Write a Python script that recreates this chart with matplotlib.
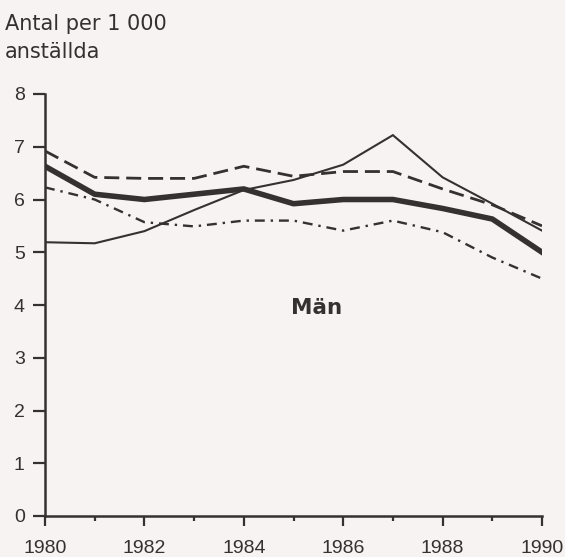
import matplotlib.pyplot as plt
from matplotlib.ticker import MultipleLocator

# Data (antal per 1 000 anställda, män)
years = list(range(1980, 1991))
total = [6.63, 6.1, 6.0, 6.1, 6.2, 5.92, 6.0, 6.0, 5.83, 5.63, 5.0]
dashed = [6.92, 6.42, 6.4, 6.4, 6.63, 6.44, 6.53, 6.53, 6.2, 5.9, 5.5]
dashdot = [6.23, 6.0, 5.57, 5.49, 5.6, 5.6, 5.41, 5.6, 5.38, 4.9, 4.5]
thin = [5.19, 5.17, 5.4, 5.8, 6.18, 6.37, 6.66, 7.22, 6.42, 5.92, 5.41]

ink = '#363131'
paper = '#f6f3f2'

plt.rcParams['font.family'] = ['Liberation Sans', 'DejaVu Sans']

W, H = 565, 557
fig = plt.figure(figsize=(W / 100, H / 100), dpi=100, facecolor=paper)
ax = fig.add_axes([45 / W, 1 - 516 / H, 497 / W, 422 / H])
ax.set_facecolor(paper)

ax.plot(years, thin, color=ink, lw=1.5, solid_joinstyle='miter')
ax.plot(years, dashed, color=ink, lw=2.0, linestyle=(0, (5.4, 2.5)))
ax.plot(years, dashdot, color=ink, lw=1.7, linestyle=(0, (4.2, 2.5, 1, 2.5)))
ax.plot(years, total, color=ink, lw=4.0, solid_joinstyle='round')

ax.set_xlim(1980, 1990)
ax.set_ylim(0, 8)

for s in ['top', 'right']:
    ax.spines[s].set_visible(False)
for s in ['left', 'bottom']:
    ax.spines[s].set_color(ink)
    ax.spines[s].set_linewidth(1.8)

ax.yaxis.set_major_locator(MultipleLocator(1))
ax.xaxis.set_major_locator(MultipleLocator(2))
ax.xaxis.set_minor_locator(MultipleLocator(1))
ax.tick_params(axis='y', direction='out', length=8.6, width=1.6, color=ink,
               labelsize=14, labelcolor=ink, pad=6)
ax.tick_params(axis='x', which='major', direction='out', length=7, width=1.6,
               color=ink, labelsize=14, labelcolor=ink, pad=10)
ax.tick_params(axis='x', which='minor', direction='out', length=3.6, width=1.6,
               color=ink)
for lab in ax.get_xticklabels():
    lab.set_family(['Liberation Sans Narrow', 'Liberation Sans'])

ax.text(1985.47, 3.95, 'Män', fontsize=15.5, fontweight='bold', color=ink,
        ha='center', va='center', family='DejaVu Sans')

fig.text(5 / W, 1 - 30 / H, 'Antal per 1 000', fontsize=15, color=ink,
         ha='left', va='baseline', family='DejaVu Sans')
fig.text(5 / W, 1 - 58 / H, 'anställda', fontsize=15, color=ink,
         ha='left', va='baseline', family='DejaVu Sans')

fig.savefig('out.png', dpi=100, facecolor=paper)
